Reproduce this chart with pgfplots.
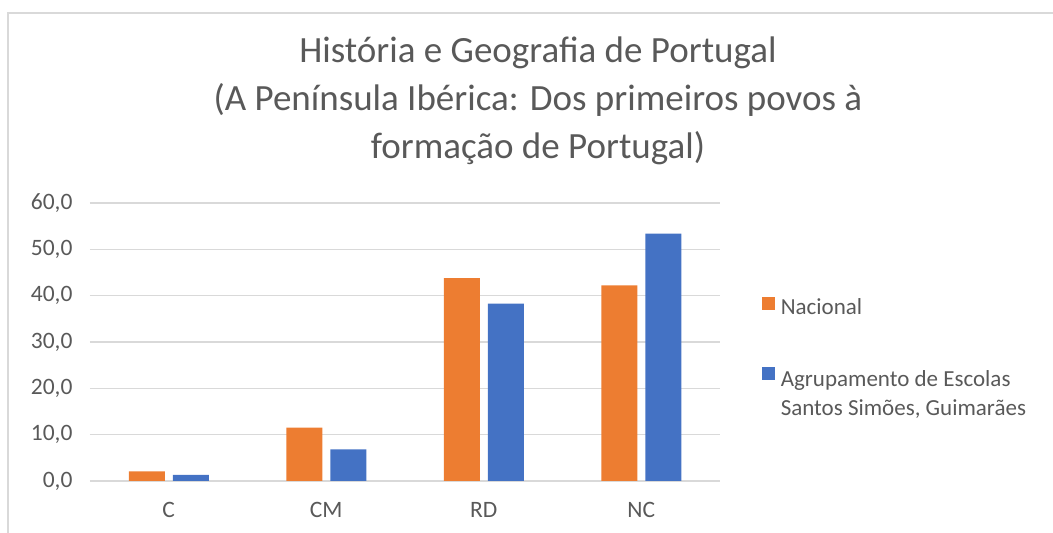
\documentclass[border=0pt]{standalone}
\usepackage{pgfplots}
\pgfplotsset{compat=1.18}
\usepackage{fontspec}
\setmainfont{Carlito}
\definecolor{nac}{HTML}{ED7D31}
\definecolor{agr}{HTML}{4472C4}
\definecolor{txt}{HTML}{595959}
\definecolor{grd}{HTML}{D9D9D9}
\begin{document}
\begin{tikzpicture}[x=1pt,y=1pt]
\useasboundingbox (0,0) rectangle (1053,533);
\draw[grd, line width=1.2pt] (8,0) -- (8,520) -- (1053,520);
\begin{axis}[
  at={(90pt,52pt)}, anchor=south west,
  scale only axis, width=630pt, height=278pt,
  ybar=8pt, bar width=36pt,
  xmin=-0.5, xmax=3.5, ymin=0, ymax=60,
  xtick=data, xticklabels={C,CM,RD,NC},
  ytick={0,10,...,60},
  axis line style={draw=none},
  ymajorgrids, grid style={grd, line width=1.3pt},
  major tick length=0pt,
  tick label style={txt, font=\fontsize{23.5}{28}\selectfont},
  yticklabel style={xshift=-14pt},
  xticklabel style={yshift=-18pt},
  /pgf/number format/assume math mode=true,
  yticklabel={\pgfmathprintnumber[fixed,fixed zerofill,precision=1,use comma]{\tick}},
  title={História e Geografia de Portugal\\(A Península Ibérica: Dos primeiros povos à\\formação de Portugal)},
  title style={at={(axis description cs:0.711,1.345)}, anchor=center, align=center, txt, font=\fontsize{37}{48}\selectfont},
  legend style={at={(axis description cs:1.066,0.665)}, anchor=north west, draw=none, fill=none, inner sep=0pt,
    font=\fontsize{23}{29}\selectfont, text=txt, row sep=46pt, cells={anchor=west}},
  legend image code/.code={\fill[#1] (0pt,-3pt) rectangle (13pt,10pt); \path (17pt,0pt);},
  legend cell align=left,
]
\addplot[fill=nac, draw=none] coordinates {(0,2.1) (1,11.5) (2,43.8) (3,42.2)};
\addplot[fill=agr, draw=none] coordinates {(0,1.3) (1,6.8) (2,38.3) (3,53.4)};
\legend{Nacional, {\begin{tabular}[t]{@{}l@{}}Agrupamento de Escolas\\[0pt]Santos Simões, Guimarães\end{tabular}}}
\end{axis}
\end{tikzpicture}
\end{document}
